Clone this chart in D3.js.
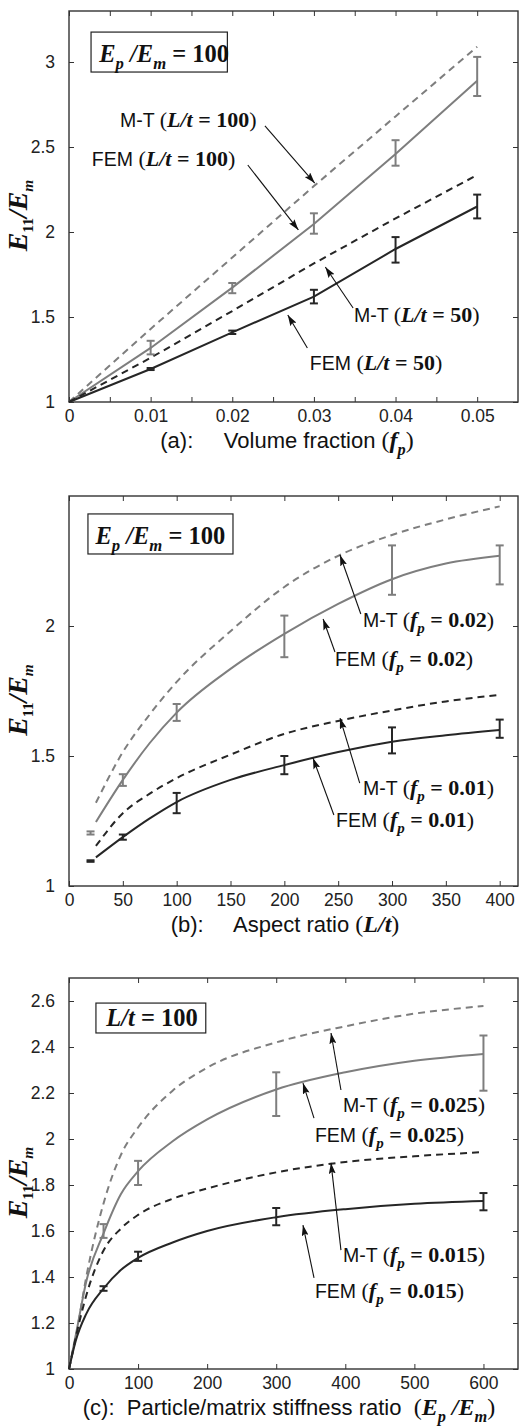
<!DOCTYPE html>
<html lang="en">
<head>
<meta charset="UTF-8" />
<title>E11/Em panels</title>
<script src="https://d3js.org/d3.v7.min.js"></script>
<style>
  body { margin: 0; background: #fff; }
</style>
</head>
<body>
<div id="chart"></div>
<script>
// ---------- panel (a): volume fraction ----------
var aX = [0, 0.01, 0.02, 0.03, 0.04, 0.05];
var aMt100 = [1, 1.43, 1.85, 2.27, 2.68, 3.09];
var aFem100 = [1, 1.318, 1.673, 2.047, 2.459, 2.89];
var aMt50 = [1, 1.26, 1.535, 1.815, 2.08, 2.335];
var aFem50 = [1, 1.194, 1.41, 1.62, 1.9, 2.15];
var aBarX = [0.01, 0.02, 0.03, 0.04, 0.05];
var aFem100Mid = [1.318, 1.673, 2.047, 2.459, 2.89];
var aFem100Lo = [1.28, 1.64, 1.99, 2.39, 2.8];
var aFem100Hi = [1.36, 1.7, 2.11, 2.54, 3.03];
var aFem50Mid = [1.194, 1.41, 1.62, 1.9, 2.15];
var aFem50Lo = [1.188, 1.4, 1.58, 1.82, 2.08];
var aFem50Hi = [1.2, 1.42, 1.66, 1.97, 2.22];
var aXTicks = [0, 0.01, 0.02, 0.03, 0.04, 0.05];
var aXMinor = [0.005, 0.015, 0.025, 0.035, 0.045];
var aYTicks = [1, 1.5, 2, 2.5, 3];

// ---------- panel (b): aspect ratio ----------
var bX = [25, 50, 75, 100, 150, 200, 250, 300, 350, 400];
var bMt02 = [1.32, 1.515, 1.66, 1.785, 1.98, 2.15, 2.27, 2.35, 2.41, 2.46];
var bFem02 = [1.246, 1.408, 1.55, 1.667, 1.835, 1.97, 2.085, 2.18, 2.24, 2.27];
var bMt01 = [1.154, 1.28, 1.355, 1.415, 1.505, 1.585, 1.635, 1.675, 1.71, 1.735];
var bFem01 = [1.11, 1.188, 1.26, 1.323, 1.408, 1.465, 1.515, 1.555, 1.58, 1.6];
var bBarX = [20, 50, 100, 200, 300, 400];
var bFem02Mid = [1.204, 1.408, 1.667, 1.973, 2.185, 2.27];
var bFem02Lo = [1.198, 1.385, 1.635, 1.88, 2.12, 2.16];
var bFem02Hi = [1.21, 1.43, 1.7, 2.04, 2.31, 2.31];
var bFem01Mid = [1.096, 1.188, 1.323, 1.465, 1.555, 1.6];
var bFem01Lo = [1.093, 1.178, 1.28, 1.43, 1.51, 1.57];
var bFem01Hi = [1.099, 1.198, 1.358, 1.5, 1.61, 1.64];
var bXTicks = [0, 50, 100, 150, 200, 250, 300, 350, 400];
var bYTicks = [1, 1.5, 2];

// ---------- panel (c): stiffness ratio ----------
var cX = [0, 10, 25, 50, 75, 100, 150, 200, 300, 400, 500, 600];
var cMt025 = [1, 1.14, 1.4, 1.72, 1.93, 2.05, 2.21, 2.31, 2.42, 2.49, 2.545, 2.578];
var cFem025 = [1, 1.15, 1.38, 1.59, 1.76, 1.86, 1.99, 2.085, 2.215, 2.29, 2.34, 2.37];
var cMt015 = [1, 1.14, 1.32, 1.515, 1.61, 1.67, 1.74, 1.785, 1.855, 1.9, 1.925, 1.943];
var cFem015 = [1, 1.125, 1.24, 1.35, 1.43, 1.483, 1.55, 1.6, 1.66, 1.695, 1.718, 1.73];
var cBarX = [50, 100, 300, 600];
var cFem025Mid = [1.595, 1.86, 2.22, 2.37];
var cFem025Lo = [1.57, 1.8, 2.1, 2.21];
var cFem025Hi = [1.63, 1.905, 2.29, 2.45];
var cFem015Mid = [1.35, 1.487, 1.66, 1.73];
var cFem015Lo = [1.34, 1.47, 1.625, 1.69];
var cFem015Hi = [1.36, 1.51, 1.7, 1.765];
var cXTicks = [0, 100, 200, 300, 400, 500, 600];
var cYTicks = [1, 1.2, 1.4, 1.6, 1.8, 2, 2.2, 2.4, 2.6];

var SANS = '"Liberation Sans", Arial, Helvetica, sans-serif';
var SERIF = '"Liberation Serif", "Times New Roman", serif';
var GRAY = "#7e7e7e";
var DARK = "#262626";

function P(t, f, sub) { return { t: t, f: f, sub: !!sub }; }

// annotations: text position and arrow tail/tip, all in data units
var aNotes = [
  { parts: [P("M-T ", "sans"), P("(", "serif"), P("L/t", "bi"), P(" = 100", "b"), P(")", "serif")], tx: 0.00625, ty: 2.618, x0: 0.024, y0: 2.624, x1: 0.0301, y1: 2.288 },
  { parts: [P("FEM ", "sans"), P("(", "serif"), P("L/t", "bi"), P(" = 100", "b"), P(")", "serif")], tx: 0.0028, ty: 2.388, x0: 0.0219, y0: 2.394, x1: 0.0281, y1: 2.012 },
  { parts: [P("M-T ", "sans"), P("(", "serif"), P("L/t", "bi"), P(" = 50", "b"), P(")", "serif")], tx: 0.0349, ty: 1.47, x0: 0.0348, y0: 1.553, x1: 0.0314, y1: 1.794 },
  { parts: [P("FEM ", "sans"), P("(", "serif"), P("L/t", "bi"), P(" = 50", "b"), P(")", "serif")], tx: 0.0295, ty: 1.188, x0: 0.0292, y0: 1.318, x1: 0.0268, y1: 1.512 }
];
var bNotes = [
  { parts: [P("M-T ", "sans"), P("(", "serif"), P("f", "bi"), P("p", "bi", 1), P(" = 0.02", "b"), P(")", "serif")], tx: 273, ty: 1.996, x0: 271, y0: 2.046, x1: 251.7, y1: 2.273 },
  { parts: [P("FEM ", "sans"), P("(", "serif"), P("f", "bi"), P("p", "bi", 1), P(" = 0.02", "b"), P(")", "serif")], tx: 247, ty: 1.846, x0: 247, y0: 1.9, x1: 236, y1: 2.027 },
  { parts: [P("M-T ", "sans"), P("(", "serif"), P("f", "bi"), P("p", "bi", 1), P(" = 0.01", "b"), P(")", "serif")], tx: 273, ty: 1.35, x0: 270, y0: 1.396, x1: 251.7, y1: 1.646 },
  { parts: [P("FEM ", "sans"), P("(", "serif"), P("f", "bi"), P("p", "bi", 1), P(" = 0.01", "b"), P(")", "serif")], tx: 248, ty: 1.227, x0: 246, y0: 1.273, x1: 226.6, y1: 1.492 }
];
var cNotes = [
  { parts: [P("M-T ", "sans"), P("(", "serif"), P("f", "bi"), P("p", "bi", 1), P(" = 0.025", "b"), P(")", "serif")], tx: 396.6, ty: 2.117, x0: 393.7, y0: 2.213, x1: 379.3, y1: 2.461 },
  { parts: [P("FEM ", "sans"), P("(", "serif"), P("f", "bi"), P("p", "bi", 1), P(" = 0.025", "b"), P(")", "serif")], tx: 356, ty: 1.987, x0: 354.7, y0: 2.091, x1: 338.7, y1: 2.243 },
  { parts: [P("M-T ", "sans"), P("(", "serif"), P("f", "bi"), P("p", "bi", 1), P(" = 0.015", "b"), P(")", "serif")], tx: 396.6, ty: 1.465, x0: 393.7, y0: 1.517, x1: 379.3, y1: 1.896 },
  { parts: [P("FEM ", "sans"), P("(", "serif"), P("f", "bi"), P("p", "bi", 1), P(" = 0.015", "b"), P(")", "serif")], tx: 356, ty: 1.309, x0: 354.7, y0: 1.396, x1: 338.7, y1: 1.626 }
];

var epEm = [P("E", "bi"), P("p", "bi", 1), P(" /", "bi"), P("E", "bi"), P("m", "bi", 1), P(" = 100", "b")];
var yTitle = [P("E", "bi"), P("11", "b", 1), P("/", "bi"), P("E", "bi"), P("m", "bi", 1)];

var width = 521, height = 1428;
var left = 69, right = 518;

var svg = d3.select("#chart").append("svg")
  .attr("width", width).attr("height", height);

svg.append("defs").append("marker")
  .attr("id", "arrow")
  .attr("viewBox", "0 0 11 7")
  .attr("refX", 11).attr("refY", 3.5)
  .attr("markerWidth", 11).attr("markerHeight", 7)
  .attr("markerUnits", "userSpaceOnUse")
  .attr("orient", "auto")
  .append("path").attr("d", "M0,0 L11,3.5 L0,7 L2,3.5 Z").attr("fill", "#111");

// mixed sans / Times text built from tspans
function rich(sel, x, y, parts, sizes, anchor) {
  var t = sel.append("text").attr("x", x).attr("y", y)
    .attr("text-anchor", anchor || "start")
    .style("white-space", "pre").attr("fill", "#111");
  var subK = sizes.sub || 0.68;
  var subDy = sizes.subDy || 0.28;
  var shift = 0;
  parts.forEach(function (p) {
    var base = p.f === "sans" ? sizes.sans : sizes.serif;
    var fs = p.sub ? sizes.serif * subK : base;
    var target = p.sub ? sizes.serif * subDy : 0;
    t.append("tspan").text(p.t)
      .attr("dy", target - shift)
      .style("font-size", fs + "px")
      .style("font-family", p.f === "sans" ? SANS : SERIF)
      .style("font-weight", p.f === "b" || p.f === "bi" ? "bold" : "normal")
      .style("font-style", p.f === "bi" ? "italic" : "normal");
    shift = target;
  });
  return t;
}

var panels = [
  {
    top: 11, bottom: 402, xDomain: [0, 0.055], yDomain: [1, 3.3],
    xTicks: aXTicks, xMinor: aXMinor, yTicks: aYTicks, curve: d3.curveLinear,
    lines: [
      { x: aX, y: aMt100, color: GRAY, dash: true },
      { x: aX, y: aFem100, color: GRAY },
      { x: aX, y: aMt50, color: DARK, dash: true },
      { x: aX, y: aFem50, color: DARK }
    ],
    bars: [
      { x: aBarX, mid: aFem100Mid, lo: aFem100Lo, hi: aFem100Hi, color: GRAY },
      { x: aBarX, mid: aFem50Mid, lo: aFem50Lo, hi: aFem50Hi, color: DARK }
    ],
    notes: aNotes,
    box: { x0: 0.0027, x1: 0.0194, y0: 3.176, y1: 2.941, tx: 0.0037, ty: 3.0, parts: epEm },
    xTitle: [P("(a):     Volume fraction ", "sans"), P("(", "serif"), P("f", "bi"), P("p", "bi", 1), P(")", "serif")],
    xTitleX: 287
  },
  {
    top: 496, bottom: 886, xDomain: [0, 417], yDomain: [1, 2.5],
    xTicks: bXTicks, xMinor: [], yTicks: bYTicks, curve: d3.curveMonotoneX,
    lines: [
      { x: bX, y: bMt02, color: GRAY, dash: true },
      { x: bX, y: bFem02, color: GRAY },
      { x: bX, y: bMt01, color: DARK, dash: true },
      { x: bX, y: bFem01, color: DARK }
    ],
    bars: [
      { x: bBarX, mid: bFem02Mid, lo: bFem02Lo, hi: bFem02Hi, color: GRAY },
      { x: bBarX, mid: bFem01Mid, lo: bFem01Lo, hi: bFem01Hi, color: DARK }
    ],
    notes: bNotes,
    box: { x0: 17.6, x1: 152.3, y0: 2.431, y1: 2.277, tx: 24.5, ty: 2.315, parts: epEm },
    xTitle: [P("(b):     Aspect ratio ", "sans"), P("(", "serif"), P("L/t", "bi"), P(")", "serif")],
    xTitleX: 285
  },
  {
    top: 978, bottom: 1369, xDomain: [0, 650], yDomain: [1, 2.7],
    xTicks: cXTicks, xMinor: [], yTicks: cYTicks, curve: d3.curveMonotoneX,
    lines: [
      { x: cX, y: cMt025, color: GRAY, dash: true },
      { x: cX, y: cFem025, color: GRAY },
      { x: cX, y: cMt015, color: DARK, dash: true },
      { x: cX, y: cFem015, color: DARK }
    ],
    bars: [
      { x: cBarX, mid: cFem025Mid, lo: cFem025Lo, hi: cFem025Hi, color: GRAY },
      { x: cBarX, mid: cFem015Mid, lo: cFem015Lo, hi: cFem015Hi, color: DARK }
    ],
    notes: cNotes,
    box: { x0: 39, x1: 198, y0: 2.591, y1: 2.461, tx: 54, ty: 2.491, parts: [P("L/t", "bi"), P(" = 100", "b")] },
    xTitle: [P("(c):  Particle/matrix stiffness ratio  ", "sans"), P("(", "serif"), P("E", "bi"), P("p", "bi", 1), P(" /", "bi"), P("E", "bi"), P("m", "bi", 1), P(")", "serif")],
    xTitleX: 289
  }
];

panels.forEach(function (pn) {
  var x = d3.scaleLinear().domain(pn.xDomain).range([left, right]);
  var y = d3.scaleLinear().domain(pn.yDomain).range([pn.bottom, pn.top]);
  var g = svg.append("g");

  var allX = pn.xTicks.concat(pn.xMinor);
  function styleAxis(ax) {
    ax.select(".domain").remove();
    ax.attr("font-size", 17.5).attr("font-family", SANS).attr("color", "#222");
    ax.selectAll(".tick line").attr("stroke", "#333");
  }

  g.append("g").attr("transform", "translate(0," + pn.bottom + ")")
    .call(d3.axisBottom(x).tickValues(allX).tickSizeInner(-5).tickSizeOuter(0).tickPadding(8)
      .tickFormat(function (d) { return pn.xTicks.indexOf(d) >= 0 ? String(d) : ""; }))
    .call(styleAxis);
  g.append("g").attr("transform", "translate(0," + pn.top + ")")
    .call(d3.axisTop(x).tickValues(allX).tickSizeInner(-5).tickSizeOuter(0).tickFormat(""))
    .call(styleAxis);
  g.append("g").attr("transform", "translate(" + left + ",0)")
    .call(d3.axisLeft(y).tickValues(pn.yTicks).tickSizeInner(-5).tickSizeOuter(0).tickPadding(14)
      .tickFormat(function (d) { return String(d); }))
    .call(styleAxis);
  g.append("g").attr("transform", "translate(" + right + ",0)")
    .call(d3.axisRight(y).tickValues(pn.yTicks).tickSizeInner(-5).tickSizeOuter(0).tickFormat(""))
    .call(styleAxis);

  g.append("rect")
    .attr("x", left).attr("y", pn.top)
    .attr("width", right - left).attr("height", pn.bottom - pn.top)
    .attr("fill", "none").attr("stroke", "#333").attr("stroke-width", 1.4);

  // curves
  var line = d3.line()
    .x(function (d) { return x(d[0]); })
    .y(function (d) { return y(d[1]); })
    .curve(pn.curve);
  pn.lines.forEach(function (s) {
    g.append("path")
      .datum(d3.zip(s.x, s.y))
      .attr("d", line)
      .attr("fill", "none")
      .attr("stroke", s.color)
      .attr("stroke-width", 2)
      .attr("stroke-dasharray", s.dash ? "7,5" : null);
  });

  // error bars
  pn.bars.forEach(function (b) {
    var eg = g.append("g").attr("stroke", b.color).attr("stroke-width", 2);
    b.x.forEach(function (xv, i) {
      var px = x(xv);
      eg.append("line").attr("x1", px).attr("x2", px).attr("y1", y(b.lo[i])).attr("y2", y(b.hi[i]));
      eg.append("line").attr("x1", px - 4).attr("x2", px + 4).attr("y1", y(b.lo[i])).attr("y2", y(b.lo[i]));
      eg.append("line").attr("x1", px - 4).attr("x2", px + 4).attr("y1", y(b.hi[i])).attr("y2", y(b.hi[i]));
    });
  });

  // boxed parameter label
  g.append("rect")
    .attr("x", x(pn.box.x0)).attr("y", y(pn.box.y0))
    .attr("width", x(pn.box.x1) - x(pn.box.x0)).attr("height", y(pn.box.y1) - y(pn.box.y0))
    .attr("fill", "#fff").attr("stroke", "#222").attr("stroke-width", 1.2);
  rich(g, x(pn.box.tx), y(pn.box.ty), pn.box.parts, { sans: 19, serif: 24.5 });

  // annotations with arrows
  pn.notes.forEach(function (n) {
    rich(g, x(n.tx), y(n.ty), n.parts, { sans: 19.5, serif: 22 });
    g.append("line")
      .attr("x1", x(n.x0)).attr("y1", y(n.y0))
      .attr("x2", x(n.x1)).attr("y2", y(n.y1))
      .attr("stroke", "#111").attr("stroke-width", 1.1)
      .attr("marker-end", "url(#arrow)");
  });

  // axis titles
  rich(g, pn.xTitleX, pn.bottom + 46, pn.xTitle, { sans: 22, serif: 24 }, "middle");
  var yt = rich(g, 0, 0, yTitle, { sans: 28, serif: 28, sub: 0.55, subDy: 0.2 }, "middle");
  yt.attr("transform", "translate(27," + ((pn.top + pn.bottom) / 2 + 9) + ") rotate(-90)");
});
</script>
</body>
</html>
